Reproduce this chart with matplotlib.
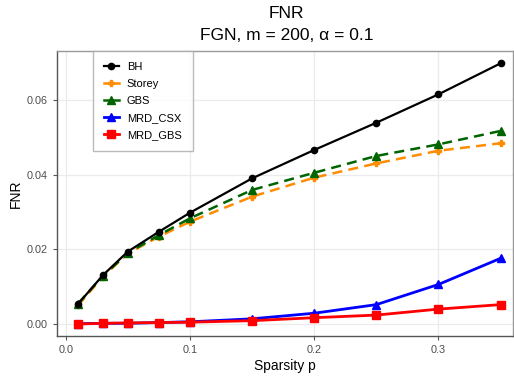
import numpy as np
import matplotlib
matplotlib.use('Agg')
import matplotlib.pyplot as plt

plt.rcParams['font.family'] = ['Liberation Sans', 'DejaVu Sans']

sparsity = [0.01, 0.03, 0.05, 0.075, 0.1, 0.15, 0.2, 0.25, 0.3, 0.35]
fnr_bh = [0.0054, 0.0131, 0.0194, 0.0247, 0.0298, 0.0390, 0.0466, 0.0539, 0.0615, 0.0698]
fnr_storey = [0.0050, 0.0127, 0.0189, 0.0234, 0.0274, 0.0341, 0.0392, 0.0430, 0.0464, 0.0484]
fnr_gbs = [0.0055, 0.0129, 0.0190, 0.0238, 0.0283, 0.0359, 0.0405, 0.0450, 0.0481, 0.0517]
fnr_mrd_csx = [0.0001, 0.0002, 0.0002, 0.0004, 0.0006, 0.0014, 0.0029, 0.0052, 0.0106, 0.0176]
fnr_mrd_gbs = [0.0000, 0.0002, 0.0003, 0.0004, 0.0005, 0.0009, 0.0017, 0.0024, 0.0040, 0.0052]

fig = plt.figure(figsize=(5.14, 3.77), dpi=100)
ax = fig.add_axes([57/514, 41/377, 456/514, 285/377])

ax.plot(sparsity, fnr_bh, color='black', lw=1.6, marker='o', ms=4.5, label='BH', zorder=5)
ax.plot(sparsity, fnr_storey, color='#ff8c00', lw=1.8, ls=(0, (4, 2.5)), marker='P', ms=4.5,
        label='Storey', zorder=3)
ax.plot(sparsity, fnr_gbs, color='#006400', lw=1.8, ls=(0, (4, 2.5)), marker='^', ms=6,
        label='GBS', zorder=4)
ax.plot(sparsity, fnr_mrd_csx, color='blue', lw=2, marker='^', ms=6, label='MRD_CSX', zorder=3)
ax.plot(sparsity, fnr_mrd_gbs, color='red', lw=2, marker='s', ms=5.5, label='MRD_GBS', zorder=4)

ax.set_xlim(-0.007, 0.360)
ax.set_ylim(-0.0032, 0.0731)
ax.set_xticks([0.0, 0.1, 0.2, 0.3])
ax.set_xticklabels(['0.0', '0.1', '0.2', '0.3'])
ax.set_yticks([0.0, 0.02, 0.04, 0.06])
ax.set_yticklabels(['0.00', '0.02', '0.04', '0.06'])
ax.grid(True, color='#ebebeb', lw=0.9)
ax.set_axisbelow(True)
for s in ax.spines.values():
    s.set_color('#999999')
    s.set_linewidth(1.0)
ax.spines['left'].set_color('#555555')
ax.spines['bottom'].set_color('#555555')
ax.tick_params(colors='#555555', labelcolor='#4d4d4d', labelsize=7.8, length=3, width=0.8)

ax.set_xlabel('Sparsity p', fontsize=10, labelpad=3)
ax.set_ylabel('FNR', fontsize=10, labelpad=3)
fig.text(0.558, 0.963, 'FNR', ha='center', va='center', fontsize=12.5)
fig.text(0.558, 0.905, 'FGN, m = 200, \u03b1 = 0.1', ha='center', va='center', fontsize=12.5)

leg = ax.legend(loc='upper left', bbox_to_anchor=(0.079, 1.0), borderaxespad=0,
                fontsize=8, frameon=True, fancybox=False, handlelength=1.3,
                labelspacing=0.62, borderpad=1.0, handletextpad=0.75)
leg.get_frame().set_edgecolor('#aaaaaa')
leg.get_frame().set_linewidth(1.0)
for h in leg.get_lines():
    h.set_linestyle('-')

fig.savefig('out.png', dpi=100)
